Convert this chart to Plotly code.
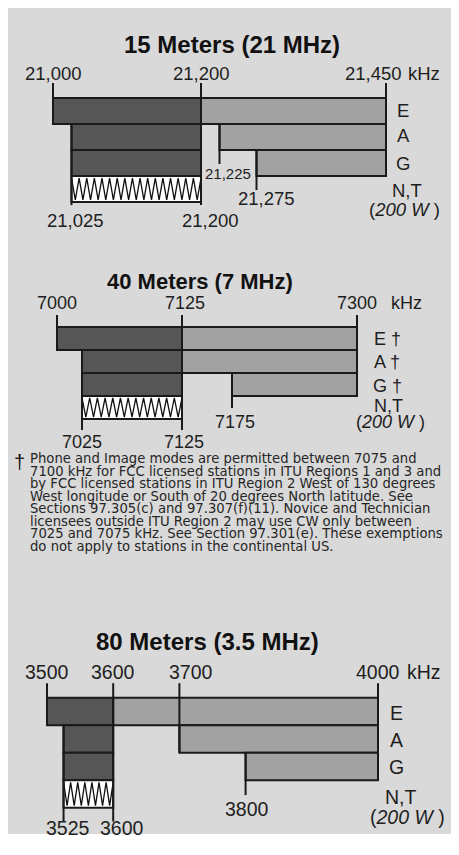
import numpy as np
import plotly.graph_objects as go

# The page body keeps its default 8px margin, so the figure starts at (8, 8).
OFF = 8
W, H = 459 - OFF, 855 - OFF
FONT = "Liberation Sans, Arial, sans-serif"
NOTE_FONT = "DejaVu Sans, Liberation Sans, sans-serif"
TXT = "#1e1e1e"
DARK = "#565656"
LIGHT = "#a2a2a2"
EDGE = "#1a1a1a"
PANEL = "#d9d9d9"

ROWS = ["E", "A", "G", "N,T"]

# ---------------- data: 15 m ----------------
B15_TITLE = "15 Meters (21 MHz)"
B15_DARK_START = [21000, 21025, 21025]
B15_DARK_END = [21200, 21200, 21200]
B15_LIGHT_START = [21200, 21225, 21275]
B15_LIGHT_END = [21450, 21450, 21450]
B15_NT = [21025, 21200]
B15_TOP_TICKS = [21000, 21200, 21450]
B15_BOTTOM_TICKS = [21025, 21200]
B15_MID_TICKS = [21225, 21275]
B15_ROW_LABELS = ["E", "A", "G", "N,T", "(<i>200 W</i> )"]

# ---------------- data: 40 m ----------------
B40_TITLE = "40 Meters (7 MHz)"
B40_DARK_START = [7000, 7025, 7025]
B40_DARK_END = [7125, 7125, 7125]
B40_LIGHT_START = [7125, 7125, 7175]
B40_LIGHT_END = [7300, 7300, 7300]
B40_NT = [7025, 7125]
B40_TOP_TICKS = [7000, 7125, 7300]
B40_BOTTOM_TICKS = [7025, 7125]
B40_MID_TICKS = [7175]
B40_ROW_LABELS = ["E \u2020", "A \u2020", "G \u2020", "N,T", "(<i>200 W</i> )"]

# ---------------- data: 80 m ----------------
B80_TITLE = "80 Meters (3.5 MHz)"
B80_DARK_START = [3500, 3525, 3525]
B80_DARK_END = [3600, 3600, 3600]
B80_LIGHT_START = [3600, 3700, 3800]
B80_LIGHT_END = [4000, 4000, 4000]
B80_NT = [3525, 3600]
B80_TOP_TICKS = [3500, 3600, 3700, 4000]
B80_BOTTOM_TICKS = [3525, 3600]
B80_MID_TICKS = [3800]
B80_ROW_LABELS = ["E", "A", "G", "N,T", "(<i>200 W</i> )"]

FOOTNOTE = [
    "Phone and Image modes are permitted between 7075 and",
    "7100 kHz for FCC licensed stations in ITU Regions 1 and 3 and",
    "by FCC licensed stations in ITU Region 2 West of 130 degrees",
    "West longitude or South of 20 degrees North latitude. See",
    "Sections 97.305(c) and 97.307(f)(11). Novice and Technician",
    "licensees outside ITU Region 2 may use CW only between",
    "7025 and 7075 kHz. See Section 97.301(e). These exemptions",
    "do not apply to stations in the continental US.",
]

# ---------------- layout (page-pixel geometry) ----------------
PANELS = [
    dict(
        title=B15_TITLE, ds=B15_DARK_START, de=B15_DARK_END, ls=B15_LIGHT_START, le=B15_LIGHT_END,
        nt=B15_NT, top=B15_TOP_TICKS, bot=B15_BOTTOM_TICKS, mid=B15_MID_TICKS, rl=B15_ROW_LABELS,
        comma=True, fmap=(21000, 53, 21450, 386), y0=111, rpx=26, ptop=20, pbot=240,
        title_y=-2.54, title_x=232, title_size=24, fs=18.5,
        tick_top=-1.08, top_bottoms=[0.5, 3.62, 2.5], top_label_y=-1.46, top_shift=[0, 0, -13],
        khz_x=424, bot_from=[0.5, None], bot_to=[3.62, 3.62], bot_label_y=4.23, bot_shift=[4, 9],
        mid_from=[0.5, 1.5], mid_to=[2.04, 3.04], mid_label_y=[2.42, 3.38], mid_shift=[8, 10],
        mid_size=[15, 18.5],
        rl_x=[403, 403, 403, 407, 404], rl_y=[0.0, 0.96, 2.0, 3.04, 3.77],
    ),
    dict(
        title=B40_TITLE, ds=B40_DARK_START, de=B40_DARK_END, ls=B40_LIGHT_START, le=B40_LIGHT_END,
        nt=B40_NT, top=B40_TOP_TICKS, bot=B40_BOTTOM_TICKS, mid=B40_MID_TICKS, rl=B40_ROW_LABELS,
        comma=False, fmap=(7000, 57, 7300, 357), y0=338.5, rpx=23, ptop=262, pbot=452,
        title_y=-2.46, title_x=200, title_size=22, fs=18,
        tick_top=-1.02, top_bottoms=[0.5, 3.98, 2.5], top_label_y=-1.54, top_shift=[0, 3, 0],
        khz_x=406, bot_from=[0.5, None], bot_to=[3.98, 3.98], bot_label_y=4.5, bot_shift=[0, 2],
        mid_from=[1.5], mid_to=[3.02], mid_label_y=[3.63], mid_shift=[3], mid_size=[18],
        rl_x=[387, 387, 387, 388, 390], rl_y=[0.0, 1.02, 2.08, 2.94, 3.64],
    ),
    dict(
        title=B80_TITLE, ds=B80_DARK_START, de=B80_DARK_END, ls=B80_LIGHT_START, le=B80_LIGHT_END,
        nt=B80_NT, top=B80_TOP_TICKS, bot=B80_BOTTOM_TICKS, mid=B80_MID_TICKS, rl=B80_ROW_LABELS,
        comma=False, fmap=(3500, 47, 4000, 378), y0=711.5, rpx=27.5, ptop=620, pbot=848,
        title_y=-2.54, title_x=207, title_size=24, fs=19.5,
        tick_top=-1.03, top_bottoms=[0.5, 4.0, 1.5, 2.5], top_label_y=-1.45, top_shift=[0, 0, 12, 0],
        khz_x=424, bot_from=[0.5, None], bot_to=[4.0, 4.0], bot_label_y=4.25, bot_shift=[4, 9],
        mid_from=[1.5], mid_to=[3.04], mid_label_y=[3.56], mid_shift=[1], mid_size=[19.5],
        rl_x=[396, 396, 396, 401, 407], rl_y=[0.05, 1.04, 2.02, 3.1, 3.84],
    ),
]


def fx(px):
    return (px - OFF) / W


def fy(py):
    return 1 - (py - OFF) / H


fig = go.Figure()
shapes = [
    dict(type="rect", xref="paper", yref="paper", x0=0, x1=1,
         y0=fy(834), y1=1, fillcolor=PANEL, line=dict(width=0), layer="below")
]
annotations = []


def fmt(v, comma):
    return f"{v:,}" if comma else str(v)


def note(**kw):
    kw.setdefault("xanchor", "center")
    kw.setdefault("yanchor", "middle")
    kw.setdefault("showarrow", False)
    annotations.append(kw)


for i, p in enumerate(PANELS):
    n = "" if i == 0 else str(i + 1)
    xa, ya = "x" + n, "y" + n
    f0, px0, f1, px1 = p["fmap"]
    s = (px1 - px0) / (f1 - f0)
    lpx0 = px0 - OFF
    xr = [f0 - lpx0 / s, f0 + (W - lpx0) / s]
    yr = [(p["pbot"] - p["y0"]) / p["rpx"], (p["ptop"] - p["y0"]) / p["rpx"]]
    axx = dict(domain=[0, 1], range=xr, visible=False, fixedrange=True, anchor=ya)
    axy = dict(domain=[fy(p["pbot"]), fy(p["ptop"])], range=yr, visible=False,
               fixedrange=True, anchor=xa)
    fig.update_layout(**{"xaxis" + n: axx, "yaxis" + n: axy})

    rows = list(range(len(p["ds"])))
    # dark (CW/data) segments
    fig.add_trace(go.Bar(
        y=rows, base=p["ds"], x=[e - b for b, e in zip(p["ds"], p["de"])], orientation="h",
        width=1, marker=dict(color=DARK, line=dict(color=EDGE, width=2)),
        xaxis=xa, yaxis=ya, hoverinfo="skip"))
    # light (phone/image) segments
    fig.add_trace(go.Bar(
        y=rows, base=p["ls"], x=[e - b for b, e in zip(p["ls"], p["le"])], orientation="h",
        width=1, marker=dict(color=LIGHT, line=dict(color=EDGE, width=2)),
        xaxis=xa, yaxis=ya, hoverinfo="skip"))
    # N,T segment (hatched)
    nt_row = len(rows)
    fig.add_trace(go.Bar(
        y=[nt_row], base=[p["nt"][0]], x=[p["nt"][1] - p["nt"][0]], orientation="h",
        width=1, marker=dict(color="white", line=dict(color=EDGE, width=2)),
        xaxis=xa, yaxis=ya, hoverinfo="skip"))
    # zig-zag hatch decoration
    teeth = max(1, int(round((p["nt"][1] - p["nt"][0]) * s / 7.6)))
    hx = np.linspace(p["nt"][0], p["nt"][1], 2 * teeth + 1)
    hy = np.where(np.arange(2 * teeth + 1) % 2 == 0, nt_row - 0.42, nt_row + 0.42)
    fig.add_trace(go.Scatter(x=hx, y=hy, mode="lines", line=dict(color="#111", width=1.3),
                             xaxis=xa, yaxis=ya, hoverinfo="skip"))

    # title
    note(xref="paper", yref=ya, x=fx(p["title_x"]), y=p["title_y"],
         text=f"<b>{p['title']}</b>",
         font=dict(family=FONT, size=p["title_size"], color="#111"))
    # top ticks
    for f, yb, sh in zip(p["top"], p["top_bottoms"], p["top_shift"]):
        shapes.append(dict(type="line", xref=xa, yref=ya, x0=f, x1=f, y0=p["tick_top"], y1=yb,
                           line=dict(color=EDGE, width=2)))
        note(xref=xa, yref=ya, x=f, y=p["top_label_y"], xshift=sh, text=fmt(f, p["comma"]),
             font=dict(family=FONT, size=p["fs"], color=TXT))
    note(xref="paper", yref=ya, x=fx(p["khz_x"]), y=p["top_label_y"], text="kHz",
         font=dict(family=FONT, size=p["fs"], color=TXT))
    # bottom ticks
    for f, yf, yt, sh in zip(p["bot"], p["bot_from"], p["bot_to"], p["bot_shift"]):
        if yf is not None:
            shapes.append(dict(type="line", xref=xa, yref=ya, x0=f, x1=f, y0=yf, y1=yt,
                               line=dict(color=EDGE, width=2)))
        note(xref=xa, yref=ya, x=f, y=p["bot_label_y"], xshift=sh, text=fmt(f, p["comma"]),
             font=dict(family=FONT, size=p["fs"], color=TXT))
    # mid ticks
    for f, yf, yt, ly, sh, sz in zip(p["mid"], p["mid_from"], p["mid_to"], p["mid_label_y"],
                                     p["mid_shift"], p["mid_size"]):
        shapes.append(dict(type="line", xref=xa, yref=ya, x0=f, x1=f, y0=yf, y1=yt,
                           line=dict(color=EDGE, width=2)))
        note(xref=xa, yref=ya, x=f, y=ly, xshift=sh, text=fmt(f, p["comma"]),
             font=dict(family=FONT, size=sz, color=TXT))
    # row labels
    for t, lx, ly in zip(p["rl"], p["rl_x"], p["rl_y"]):
        note(xref="paper", yref=ya, x=fx(lx), y=ly, text=t,
             font=dict(family=FONT, size=p["fs"], color=TXT))

# footnote
note(xref="paper", yref="paper", x=fx(19), y=fy(462), text="\u2020",
     font=dict(family=FONT, size=20, color="#111"))
for k, line in enumerate(FOOTNOTE):
    note(xref="paper", yref="paper", x=fx(28), y=fy(459 + k * 12.45), xanchor="left",
         text=line, font=dict(family=NOTE_FONT, size=13.2, color="#262626"))

fig.update_layout(
    width=W, height=H, margin=dict(l=0, r=0, t=0, b=0),
    paper_bgcolor="white", plot_bgcolor="rgba(0,0,0,0)",
    barmode="overlay", showlegend=False, hovermode=False,
    shapes=shapes, annotations=annotations,
)

fig.write_html(
    "out.html",
    config={"displayModeBar": False},
    post_script="document.documentElement.style.overflow='hidden';"
                "document.body.style.overflow='hidden';",
)
